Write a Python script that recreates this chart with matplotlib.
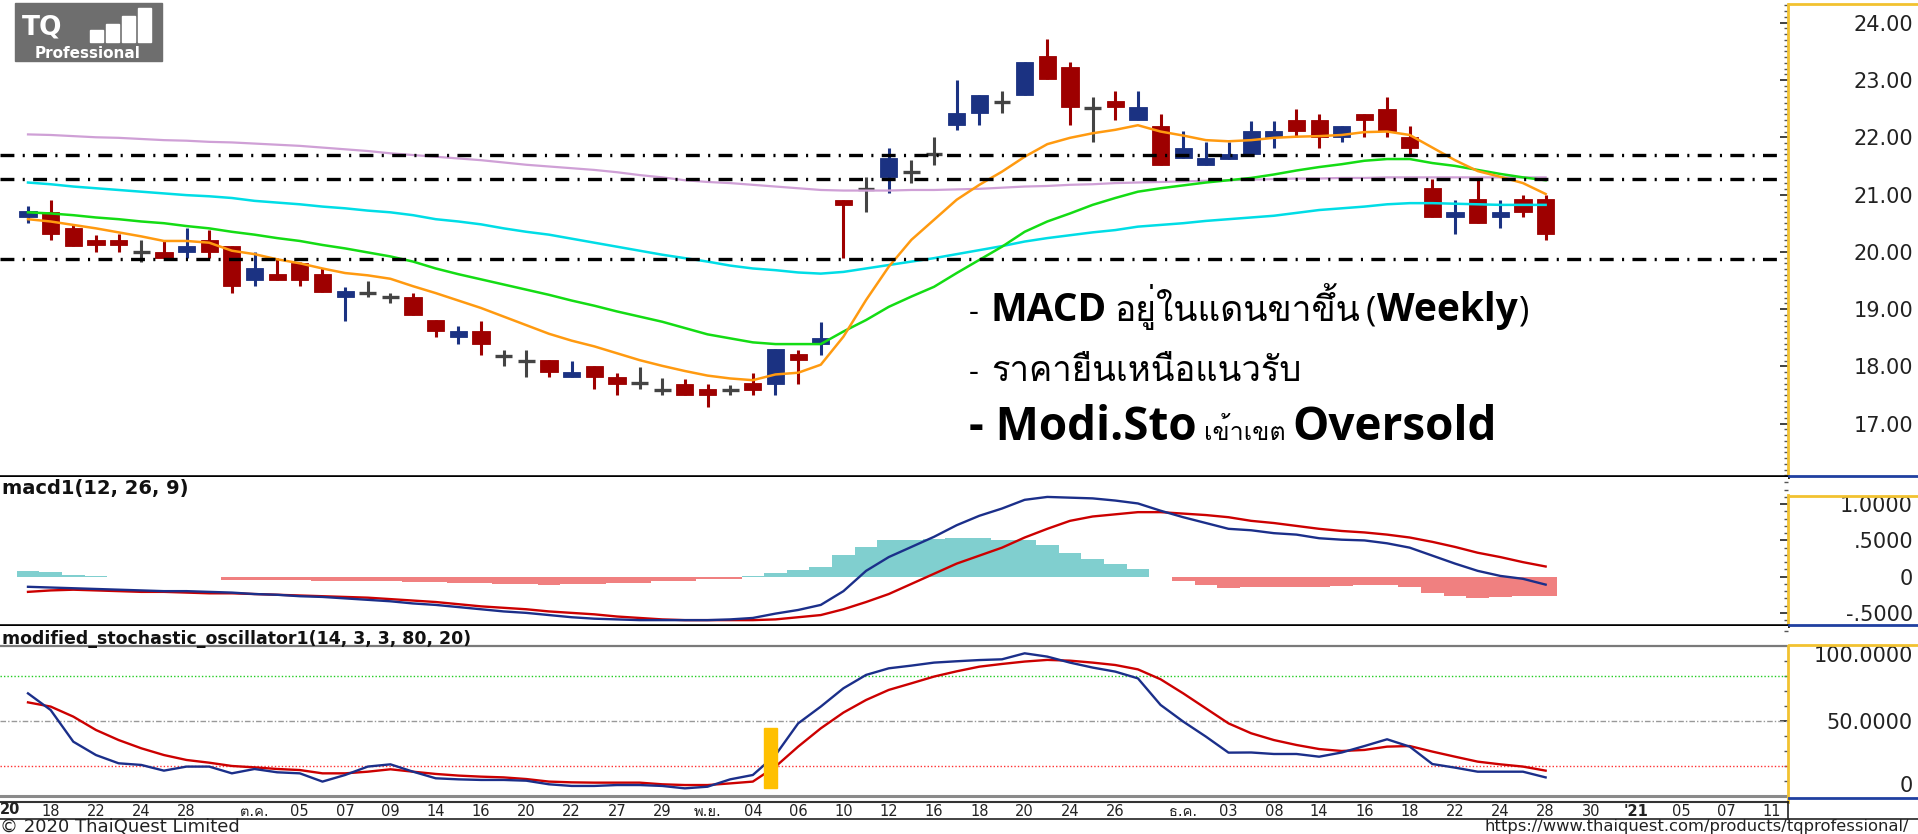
import matplotlib
matplotlib.use("Agg")
import matplotlib.pyplot as plt
from matplotlib import font_manager, ft2font
from matplotlib.patches import Rectangle
from matplotlib.lines import Line2D
from matplotlib.ticker import MultipleLocator

W, H = 1918, 834

# ---------------- daily candles (Sep 17 - Dec 28, 2020) ----------------
opens = [20.60, 20.70, 20.42, 20.21, 20.21, 19.99, 20.00, 20.00, 20.21, 20.11,
         19.51, 19.61, 19.81, 19.61, 19.22, 19.29, 19.21, 19.21, 18.81, 18.52,
         18.61, 18.19, 18.10, 18.11, 17.81, 18.01, 17.81, 17.71, 17.59, 17.70,
         17.60, 17.59, 17.71, 17.70, 18.21, 18.40, 20.91, 21.09, 21.31, 21.40,
         21.70, 22.22, 22.42, 22.62, 22.73, 23.41, 23.22, 22.51, 22.63, 22.31,
         22.20, 21.63, 21.52, 21.62, 21.71, 22.01, 22.30, 22.30, 22.01, 22.41,
         22.50, 22.01, 21.11, 20.61, 20.92, 20.61, 20.92, 20.92]
highs = [20.80, 20.91, 20.46, 20.30, 20.31, 20.20, 20.19, 20.41, 20.38, 20.11,
         20.00, 19.89, 19.82, 19.71, 19.39, 19.49, 19.28, 19.29, 18.81, 18.70,
         18.80, 18.29, 18.29, 18.11, 18.10, 18.01, 17.89, 17.99, 17.79, 17.78,
         17.70, 17.68, 17.89, 18.30, 18.29, 18.78, 20.91, 21.31, 21.81, 21.60,
         22.01, 23.00, 22.73, 22.80, 23.32, 23.71, 23.31, 22.71, 22.80, 22.80,
         22.40, 22.11, 21.91, 21.91, 22.29, 22.29, 22.50, 22.41, 22.20, 22.41,
         22.71, 22.20, 21.27, 20.91, 21.27, 20.91, 21.00, 20.99]
lows = [20.50, 20.21, 20.11, 20.00, 20.00, 19.82, 19.89, 19.90, 19.90, 19.29,
        19.41, 19.51, 19.41, 19.30, 18.80, 19.22, 19.11, 18.90, 18.51, 18.40,
        18.20, 18.01, 17.81, 17.81, 17.81, 17.60, 17.50, 17.60, 17.51, 17.50,
        17.30, 17.50, 17.50, 17.50, 17.70, 18.20, 19.89, 20.70, 21.02, 21.21,
        21.52, 22.13, 22.22, 22.42, 22.73, 23.02, 22.22, 21.91, 22.31, 22.31,
        21.52, 21.63, 21.52, 21.62, 21.71, 21.81, 22.01, 21.81, 21.91, 22.01,
        22.01, 21.71, 20.61, 20.31, 20.50, 20.41, 20.61, 20.21]
closes = [20.72, 20.31, 20.11, 20.12, 20.12, 19.99, 19.89, 20.11, 20.00, 19.41,
          19.71, 19.51, 19.51, 19.30, 19.31, 19.29, 19.21, 18.90, 18.61, 18.61,
          18.40, 18.19, 18.10, 17.91, 17.91, 17.81, 17.70, 17.71, 17.59, 17.50,
          17.50, 17.59, 17.59, 18.30, 18.11, 18.50, 20.82, 21.09, 21.63, 21.40,
          21.70, 22.42, 22.73, 22.62, 23.32, 23.02, 22.52, 22.51, 22.53, 22.52,
          21.52, 21.81, 21.63, 21.71, 22.11, 22.11, 22.11, 22.01, 22.20, 22.30,
          22.11, 21.82, 20.61, 20.70, 20.50, 20.70, 20.70, 20.31]

# moving averages
ma_orange = [20.57, 20.53, 20.47, 20.41, 20.34, 20.27, 20.19, 20.19, 20.16, 20.02,
             19.96, 19.87, 19.80, 19.71, 19.63, 19.59, 19.53, 19.40, 19.28, 19.15,
             19.02, 18.87, 18.72, 18.57, 18.45, 18.35, 18.23, 18.11, 18.01, 17.92,
             17.84, 17.79, 17.76, 17.86, 17.89, 18.03, 18.52, 19.16, 19.74, 20.21,
             20.56, 20.91, 21.17, 21.40, 21.66, 21.88, 21.99, 22.07, 22.13, 22.21,
             22.10, 22.03, 21.95, 21.93, 21.95, 21.99, 22.01, 22.02, 22.04, 22.09,
             22.10, 22.04, 21.82, 21.60, 21.41, 21.31, 21.20, 21.01]
ma_green = [20.69, 20.67, 20.64, 20.60, 20.57, 20.53, 20.50, 20.45, 20.41, 20.35,
            20.30, 20.24, 20.19, 20.12, 20.06, 19.99, 19.92, 19.83, 19.71, 19.61,
            19.52, 19.43, 19.34, 19.25, 19.15, 19.06, 18.96, 18.87, 18.78, 18.67,
            18.56, 18.49, 18.42, 18.39, 18.39, 18.39, 18.61, 18.81, 19.04, 19.22,
            19.39, 19.63, 19.86, 20.09, 20.35, 20.53, 20.67, 20.82, 20.94, 21.05,
            21.11, 21.16, 21.21, 21.25, 21.29, 21.35, 21.42, 21.48, 21.53, 21.59,
            21.62, 21.62, 21.55, 21.50, 21.43, 21.36, 21.30, 21.25]
ma_cyan = [21.21, 21.18, 21.14, 21.11, 21.08, 21.05, 21.02, 20.99, 20.97, 20.94,
           20.89, 20.86, 20.83, 20.79, 20.76, 20.72, 20.69, 20.64, 20.57, 20.53,
           20.48, 20.41, 20.35, 20.30, 20.23, 20.16, 20.09, 20.02, 19.95, 19.89,
           19.83, 19.76, 19.71, 19.68, 19.64, 19.62, 19.65, 19.71, 19.77, 19.83,
           19.89, 19.96, 20.03, 20.10, 20.18, 20.24, 20.29, 20.34, 20.38, 20.44,
           20.47, 20.50, 20.54, 20.57, 20.60, 20.63, 20.68, 20.73, 20.76, 20.79,
           20.83, 20.85, 20.85, 20.84, 20.83, 20.82, 20.82, 20.82]
ma_purple = [22.05, 22.04, 22.02, 22.00, 21.99, 21.97, 21.95, 21.94, 21.92, 21.91,
             21.89, 21.87, 21.85, 21.82, 21.79, 21.76, 21.72, 21.69, 21.66, 21.63,
             21.60, 21.56, 21.52, 21.49, 21.46, 21.43, 21.39, 21.34, 21.30, 21.25,
             21.22, 21.20, 21.17, 21.14, 21.11, 21.08, 21.07, 21.07, 21.07, 21.08,
             21.08, 21.09, 21.10, 21.12, 21.14, 21.15, 21.17, 21.18, 21.20, 21.21,
             21.22, 21.23, 21.24, 21.25, 21.26, 21.27, 21.28, 21.28, 21.29, 21.29,
             21.30, 21.30, 21.30, 21.30, 21.30, 21.30, 21.30, 21.30]

# support / resistance levels
levels = [21.69, 21.28, 19.88]

# MACD(12, 26, 9)
macd_line = [-0.14, -0.15, -0.16, -0.17, -0.18, -0.19, -0.20, -0.20, -0.21, -0.22,
             -0.24, -0.25, -0.27, -0.28, -0.30, -0.32, -0.34, -0.37, -0.39, -0.42,
             -0.45, -0.48, -0.50, -0.53, -0.56, -0.58, -0.59, -0.60, -0.60, -0.60,
             -0.60, -0.59, -0.57, -0.51, -0.46, -0.39, -0.20, 0.08, 0.27, 0.41,
             0.55, 0.71, 0.84, 0.94, 1.06, 1.10, 1.09, 1.08, 1.05, 1.01,
             0.91, 0.82, 0.74, 0.66, 0.64, 0.60, 0.58, 0.53, 0.51, 0.50,
             0.46, 0.40, 0.29, 0.18, 0.08, 0.01, -0.03, -0.11]
macd_signal = [-0.21, -0.19, -0.18, -0.19, -0.20, -0.21, -0.21, -0.22, -0.23, -0.23,
               -0.24, -0.25, -0.26, -0.27, -0.28, -0.29, -0.31, -0.33, -0.35, -0.38,
               -0.41, -0.43, -0.45, -0.48, -0.50, -0.52, -0.55, -0.57, -0.59, -0.60,
               -0.60, -0.60, -0.60, -0.59, -0.56, -0.53, -0.45, -0.35, -0.24, -0.10,
               0.04, 0.18, 0.29, 0.40, 0.54, 0.66, 0.77, 0.83, 0.86, 0.89,
               0.89, 0.87, 0.85, 0.82, 0.77, 0.74, 0.70, 0.66, 0.63, 0.61,
               0.58, 0.54, 0.48, 0.41, 0.33, 0.27, 0.20, 0.14]
macd_hist = [0.074, 0.07, 0.023, 0.005, 0.0, -0.01, -0.01, -0.01, -0.01, -0.042,
             -0.042, -0.042, -0.042, -0.065, -0.065, -0.065, -0.065, -0.079, -0.079, -0.093,
             -0.093, -0.102, -0.102, -0.116, -0.102, -0.102, -0.086, -0.086, -0.065, -0.065,
             -0.028, -0.028, 0.01, 0.051, 0.088, 0.13, 0.30, 0.41, 0.50, 0.50,
             0.52, 0.537, 0.537, 0.50, 0.50, 0.43, 0.33, 0.25, 0.18, 0.11,
             0.0, -0.056, -0.111, -0.157, -0.144, -0.144, -0.144, -0.144, -0.134, -0.116,
             -0.116, -0.144, -0.227, -0.273, -0.296, -0.282, -0.264, -0.264]

# modified stochastic oscillator (14, 3, 3, 80, 20)
stoch_k = [68.4, 57.3, 36.2, 27.3, 21.8, 20.7, 16.9, 19.6, 19.6, 15.1,
           18.0, 15.8, 15.1, 9.6, 14.0, 19.6, 21.1, 16.2, 11.8, 11.1,
           10.7, 10.7, 10.2, 7.8, 6.7, 6.7, 7.3, 7.3, 6.7, 5.1,
           6.2, 11.1, 14.0, 27.3, 48.4, 59.6, 71.8, 80.7, 85.1, 86.9,
           88.9, 89.8, 90.6, 91.1, 95.1, 92.9, 88.9, 85.6, 82.9, 78.4,
           60.7, 49.6, 39.6, 28.9, 29.0, 28.0, 28.0, 26.2, 29.0, 33.3,
           37.8, 32.9, 21.3, 18.9, 16.2, 16.2, 16.2, 12.4]
stoch_d = [62.4, 59.6, 52.9, 44.0, 37.3, 31.8, 27.3, 24.0, 22.2, 20.0,
           19.1, 18.0, 17.3, 15.1, 15.1, 16.2, 17.8, 16.2, 14.7, 13.6,
           12.9, 12.4, 11.3, 9.6, 9.1, 8.9, 8.9, 8.9, 7.8, 7.3,
           7.3, 8.4, 9.6, 19.6, 32.9, 45.1, 55.6, 64.0, 70.7, 75.1,
           79.6, 83.1, 86.2, 88.0, 89.6, 90.7, 90.2, 88.9, 87.3, 84.4,
           77.8, 68.4, 58.4, 48.4, 41.8, 37.3, 34.0, 31.3, 30.0, 30.7,
           32.9, 33.3, 29.6, 26.2, 22.9, 21.1, 19.6, 16.9]

# date axis (bar index -> label), future trading days included
tick_idx = [1, 3, 5, 7, 10, 12, 14, 16, 18, 20, 22, 24, 26, 28, 30, 32, 34, 36,
            38, 40, 42, 44, 46, 48, 51, 53, 55, 57, 59, 61, 63, 65, 67, 69, 71, 73, 75, 77]
tick_lbl = ["18", "22", "24", "28", "ต.ค.", "05", "07", "09", "14", "16", "20",
            "22", "27", "29", "พ.ย.", "04", "06", "10", "12", "16", "18", "20", "24",
            "26", "ธ.ค.", "03", "08", "14", "16", "18", "22", "24", "28", "30", "'21",
            "05", "07", "11"]

UP, DOWN, FLAT = "#1B3282", "#9E0000", "#444444"
plt.rcParams["lines.scale_dashes"] = False


def find_thai_font():
    # first installed family that has Thai glyphs
    for f in font_manager.fontManager.ttflist:
        try:
            if 0x0E2D in ft2font.FT2Font(f.fname).get_charmap():
                return f.name
        except Exception:
            continue
    return "DejaVu Sans"


THAI = find_thai_font()


def fx(px):
    return px / W


def fy(py):
    return 1 - py / H


def fig_line(fig, x0, y0, x1, y1, color, lw):
    fig.add_artist(Line2D([fx(x0), fx(x1)], [fy(y0), fy(y1)], color=color, lw=lw,
                          transform=fig.transFigure))


def chain_text(fig, x0, y, pieces):
    # lay text pieces side by side on one baseline, measuring each one
    r = fig.canvas.get_renderer()
    x = x0
    for txt, kw, gap in pieces:
        t = fig.text(fx(x), fy(y), txt, va="baseline", color="black", **kw)
        x = t.get_window_extent(renderer=r).x1 + gap


def style_right_axis(ax, ticks, labels, minor, lo, hi):
    ax.yaxis.tick_right()
    ax.set_yticks(ticks)
    ax.set_yticklabels(labels)
    ax.yaxis.set_minor_locator(minor)
    ax.tick_params(axis="y", which="major", direction="in", length=6, width=1.3,
                   color="#333333", labelsize=15, labelcolor="#222222", pad=90)
    ax.tick_params(axis="y", which="minor", direction="in", length=3, width=1,
                   color="#555555")
    for lab in ax.get_yticklabels():
        lab.set_ha("right")
    for s in ("left", "top"):
        ax.spines[s].set_visible(False)
    ax.spines["right"].set_color("#F2C230")
    ax.spines["right"].set_linewidth(2)
    ax.spines["right"].set_bounds(lo, hi)
    ax.set_xticks([])


def draw_candles(ax):
    for i in range(len(opens)):
        o, h, l, c = opens[i], highs[i], lows[i], closes[i]
        col = UP if c > o else (DOWN if c < o else FLAT)
        ax.vlines(i, l, h, color=col, lw=2.2, zorder=2)
        if c == o:
            ax.hlines(c, i - 0.37, i + 0.37, color=col, lw=2.4, zorder=2)
        else:
            ax.bar(i, abs(c - o), bottom=min(o, c), width=0.76, color=col,
                   edgecolor=col, lw=0.6, zorder=2)


def main():
    fig = plt.figure(figsize=(W / 100, H / 100), dpi=100)
    right = 1788 / W
    xlim = (-1.236, 77.7)
    x = list(range(len(closes)))

    # ---------------- price panel ----------------
    ax1 = fig.add_axes([0, fy(477), right, 477 / H])
    ax1.set_xlim(*xlim)
    ax1.set_ylim(16.07, 24.396)
    draw_candles(ax1)
    ax1.plot(x, ma_purple, color="#CFA0D6", lw=1.6, zorder=3)
    ax1.plot(x, ma_cyan, color="#00DDE6", lw=1.8, zorder=3)
    ax1.plot(x, ma_green, color="#14DC14", lw=1.8, zorder=3)
    ax1.plot(x, ma_orange, color="#FF9A10", lw=1.8, zorder=3)
    for lv in levels:
        ax1.axhline(lv, xmax=0.995, color="black", lw=2.4,
                    linestyle=(0, (10, 6, 1.5, 6)), zorder=4)
    style_right_axis(ax1, range(17, 25), ["%.2f" % v for v in range(17, 25)],
                     MultipleLocator(0.1), 16.07, 24.33)
    ax1.spines["bottom"].set_color("black")
    ax1.spines["bottom"].set_linewidth(2.6)

    # ---------------- MACD panel ----------------
    ax2 = fig.add_axes([0, fy(626), right, 149 / H])
    ax2.set_xlim(*xlim)
    ax2.set_ylim(-0.681, 1.375)
    hist_col = ["#80CFCF" if v >= 0 else "#F08080" for v in macd_hist]
    ax2.bar(x, macd_hist, width=1.0, color=hist_col, lw=0, zorder=1)
    ax2.plot(x, macd_signal, color="#CC0000", lw=1.7, zorder=3)
    ax2.plot(x, macd_line, color="#1B2F8A", lw=1.7, zorder=3)
    style_right_axis(ax2, [-0.5, 0, 0.5, 1.0], ["-.5000", "0", ".5000", "1.0000"],
                     MultipleLocator(0.1), -0.681, 1.125)
    ax2.spines["bottom"].set_color("black")
    ax2.spines["bottom"].set_linewidth(2.6)
    ax2.text(0.001, 0.985, "macd1(12, 26, 9)", transform=ax2.transAxes, ha="left",
             va="top", fontsize=14, fontweight="bold", color="#111111")

    # ---------------- stochastic panel ----------------
    ax3 = fig.add_axes([0, fy(802), right, 176 / H])
    ax3.set_xlim(*xlim)
    ax3.set_ylim(-4, 113.3)
    ax3.axhline(100, color="#7A7A7A", lw=1.6)
    ax3.axhline(0, color="#8A8A8A", lw=2.2)
    ax3.axhline(80, color="#22CC22", lw=1, linestyle=(0, (1, 1.5)))
    ax3.axhline(50, color="#999999", lw=1, linestyle=(0, (4, 1.5, 1, 1.5)))
    ax3.axhline(20, color="#FF3030", lw=1, linestyle=(0, (1, 1.5)))
    ax3.plot(x, stoch_d, color="#CC0000", lw=1.7, zorder=3)
    ax3.plot(x, stoch_k, color="#1B2F8A", lw=1.7, zorder=3)
    ax3.add_patch(Rectangle((32.5, 5), 0.55, 40.5, color="#FFC000", zorder=5))
    style_right_axis(ax3, [0, 50, 100], ["0", "50.0000", "100.0000"],
                     MultipleLocator(10), -4, 100)
    labs = ax3.get_yticklabels()
    labs[0].set_va("bottom")
    labs[2].set_va("top")
    ax3.spines["bottom"].set_color("#333333")
    ax3.spines["bottom"].set_linewidth(1.5)
    ax3.text(0.001, 0.975, "modified_stochastic_oscillator1(14, 3, 3, 80, 20)",
             transform=ax3.transAxes, ha="left", va="top", fontsize=12.5,
             fontweight="bold", color="#111111")

    # date labels under the stochastic panel
    ax3.set_xticks(tick_idx)
    ax3.set_xticklabels(tick_lbl, fontsize=10.5, color="#222222",
                        family=["DejaVu Sans", THAI])
    ax3.tick_params(axis="x", length=0, pad=1.5)
    for lab in ax3.get_xticklabels():
        if lab.get_text().startswith("'"):
            lab.set_fontweight("bold")
    # year label of the first (cut) column
    fig.text(0, fy(809), "20", ha="left", va="center", fontsize=10.5,
             fontweight="bold", color="#222222")

    # frame pieces of the right-hand label column
    gold, blue = "#F2C230", "#2040A0"
    for top, bot in ((4, 476), (496, 625), (645, 798)):
        fig_line(fig, 1789, top, W, top, gold, 2)
        fig_line(fig, 1789, bot, W, bot, blue, 2)
    fig_line(fig, 0, 819, W, 819, "#222222", 1.2)
    fig_line(fig, 1788, 802, 1788, 819, "#222222", 1.2)

    # footer
    fig.text(0, fy(827), "© 2020 ThaiQuest Limited", ha="left", va="center",
             fontsize=13, color="#222222")
    fig.text(fx(1484), fy(827), "https://www.thaiquest.com/products/tqprofessional/",
             ha="left", va="center", fontsize=11.8, color="#222222")

    # logo
    fig.add_artist(Rectangle((fx(15), fy(61)), 147 / W, 58 / H, color="#6E6E6E",
                             transform=fig.transFigure))
    fig.text(fx(22), fy(28), "TQ", ha="left", va="center", fontsize=19,
             fontweight="bold", color="white")
    for bx, btop in [(90, 30), (106, 24), (122, 16), (138, 8)]:
        fig.add_artist(Rectangle((fx(bx), fy(42)), 13 / W, (42 - btop) / H,
                                 color="white", transform=fig.transFigure))
    fig.text(fx(88), fy(53.5), "Professional", ha="center", va="center",
             fontsize=11, fontweight="bold", color="white")

    # annotation text block
    lat = ["Open Sans", "DejaVu Sans"]
    th = [THAI, "DejaVu Sans"]
    reg = dict(family=lat)
    bold = dict(family=lat, fontweight="bold")
    chain_text(fig, 969, 321, [
        ("-", dict(fontsize=22, **reg), 12),
        ("MACD", dict(fontsize=28, **bold), 7),
        ("อยู่ในแดนขาขึ้น", dict(fontsize=25.5, family=th), 6),
        ("(", dict(fontsize=25, **reg), 1),
        ("Weekly", dict(fontsize=28, **bold), 1),
        (")", dict(fontsize=25, **reg), 0),
    ])
    chain_text(fig, 969, 381, [
        ("-", dict(fontsize=22, **reg), 12),
        ("ราคายืนเหนือแนวรับ", dict(fontsize=25, family=th), 0),
    ])
    chain_text(fig, 969, 440, [
        ("- Modi.Sto", dict(fontsize=33, **bold), 7),
        ("เข้าเขต", dict(fontsize=18, family=th), 7),
        ("Oversold", dict(fontsize=33, **bold), 0),
    ])

    fig.savefig("out.png", dpi=100, facecolor="white")
    plt.close(fig)


if __name__ == "__main__":
    main()
